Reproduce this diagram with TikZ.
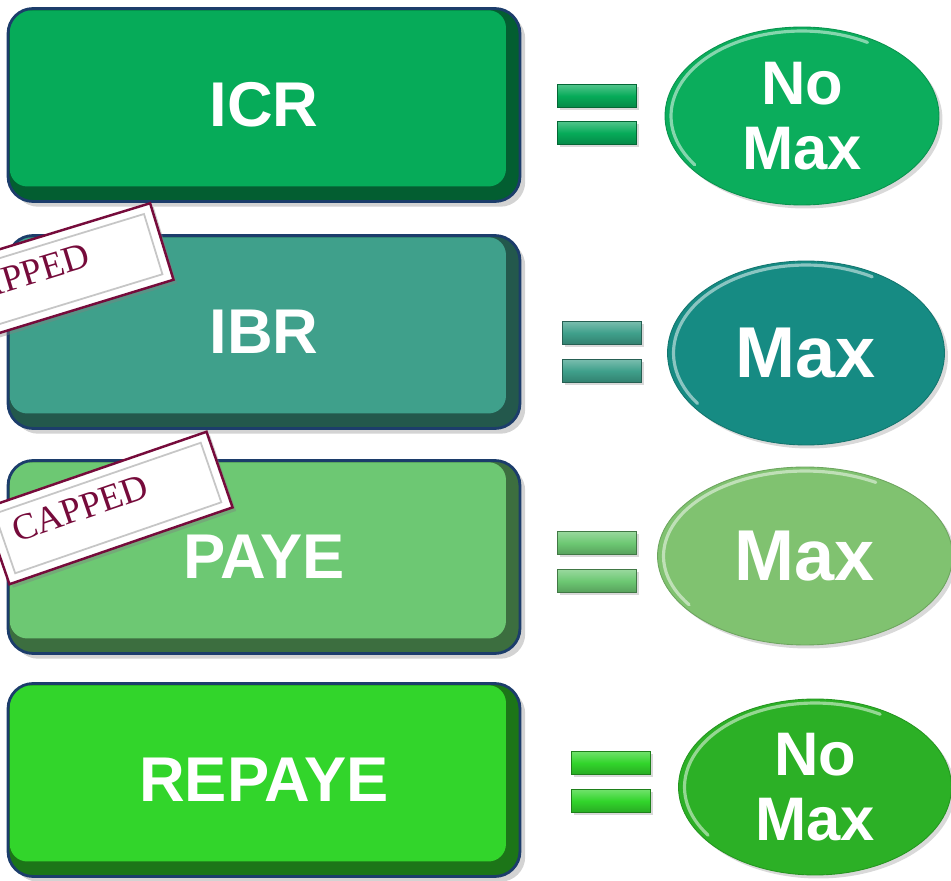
\documentclass[tikz,border=0pt]{standalone}
\usepackage{fontspec}
\setmainfont{Liberation Sans}
\newfontfamily\stampfont{Liberation Serif}
\usetikzlibrary{shapes.geometric,shadows,calc}

\definecolor{icrgreen}{HTML}{06AB59}
\definecolor{ibrteal}{HTML}{3FA08B}
\definecolor{payegreen}{HTML}{6DC873}
\definecolor{repayegreen}{HTML}{32D52B}
\definecolor{maxgreen}{HTML}{0BAD5C}
\definecolor{maxteal}{HTML}{168B83}
\definecolor{maxlight}{HTML}{80C270}
\definecolor{maxbright}{HTML}{2CB026}
\definecolor{edgeblue}{HTML}{1C3D6B}
\definecolor{stampred}{HTML}{760B3B}

\tikzset{
  planbox/.style={draw=edgeblue, line width=1.6pt, rounded corners=0.5cm,
    fill=#1!55!black, minimum width=10.24cm, minimum height=3.86cm,
    text=white, font=\fontsize{36}{40}\selectfont\bfseries,
    drop shadow={opacity=0.35, shadow xshift=3pt, shadow yshift=-3pt},
    path picture={\fill[#1, rounded corners=0.35cm]
      ([shift={(1pt,-1pt)}]path picture bounding box.north west) rectangle
      ([shift={(-0.28cm,0.3cm)}]path picture bounding box.south east);}},
  eqbar/.style={top color=#1!70!white, bottom color=#1!80!black, middle color=#1,
    draw=#1!60!black, line width=0.4pt, inner sep=0pt,
    minimum width=1.58cm, minimum height=0.46cm,
    drop shadow={opacity=0.3, shadow xshift=1.5pt, shadow yshift=-1.5pt}},
  result/.style={ellipse, fill=#1, draw=#1!85!black, line width=0.5pt,
    text=white, align=center, inner sep=0pt,
    font=\fontsize{41}{44}\selectfont\bfseries,
    drop shadow={opacity=0.3, shadow xshift=2pt, shadow yshift=-2pt}},
  twoline/.style={font=\fontsize{35}{37}\selectfont\bfseries},
  stampbox/.style={draw=stampred, line width=1.4pt, fill=white,
    minimum width=4.72cm, minimum height=1.6cm,
    drop shadow={opacity=0.4, shadow xshift=2pt, shadow yshift=-2pt}},
  stampframe/.style={draw=gray!45, line width=1pt,
    minimum width=4.36cm, minimum height=1.26cm},
  stamptext/.style={text=stampred, font=\stampfont\fontsize{21}{24}\selectfont},
  gloss/.style={white, opacity=0.5, line width=1.8pt, line cap=round}
}

\begin{document}
\begin{tikzpicture}[x=0.02cm, y=-0.02cm]
  \useasboundingbox (0,0) rectangle (951,881);
  \clip (0,0) rectangle (951,881);

  % Plans
  \node[planbox=icrgreen] (icr) at (264,105) {ICR};
  \node[planbox=ibrteal] (ibr) at (264,332) {IBR};
  \node[planbox=payegreen] (paye) at (264,557) {PAYE};
  \node[planbox=repayegreen] (repaye) at (264,780) {REPAYE};

  % Stamps
  \node[stampbox, rotate=17] (stampI) at (49,276) {};
  \node[stampframe, rotate=17] (frameI) at (stampI.center) {};
  \node[stamptext, rotate=17] (capI) at ($(stampI.center)!0.28!(stampI.north)!0.22!(stampI.west)$) {CAPPED};

  \node[stampbox, rotate=19] (stampP) at (108,508) {};
  \node[stampframe, rotate=19] (frameP) at (stampP.center) {};
  \node[stamptext, rotate=19] (capP) at ($(stampP.center)!0.28!(stampP.north)!0.22!(stampP.west)$) {CAPPED};

  % Equals signs
  \node[eqbar=icrgreen] (eqA1) at (597,96) {};
  \node[eqbar=icrgreen] (eqA2) at (597,133) {};
  \node[eqbar=ibrteal] (eqB1) at (602,333) {};
  \node[eqbar=ibrteal] (eqB2) at (602,371) {};
  \node[eqbar=payegreen] (eqC1) at (597,543) {};
  \node[eqbar=payegreen] (eqC2) at (597,581) {};
  \node[eqbar=repayegreen] (eqD1) at (611,763) {};
  \node[eqbar=repayegreen] (eqD2) at (611,801) {};

  % Results
  \node[result=maxgreen, twoline, minimum width=5.48cm, minimum height=3.56cm]
    (resA) at (802,116) {No\\Max};
  \node[result=maxteal, minimum width=5.54cm, minimum height=3.68cm]
    (resB) at (806,353) {Max};
  \node[result=maxlight, minimum width=5.9cm, minimum height=3.56cm]
    (resC) at (805,556) {Max};
  \node[result=maxbright, twoline, minimum width=5.46cm, minimum height=3.52cm]
    (resD) at (815,787) {No\\Max};

  % Highlights
  \foreach \e/\rx/\ry in {resA/2.62/1.7, resB/2.65/1.76, resC/2.83/1.7, resD/2.61/1.68}
    \draw[gloss] ($(\e.center)+(215:\rx cm and \ry cm)$)
      arc[start angle=215, end angle=60, x radius=\rx cm, y radius=\ry cm];
\end{tikzpicture}
\end{document}
